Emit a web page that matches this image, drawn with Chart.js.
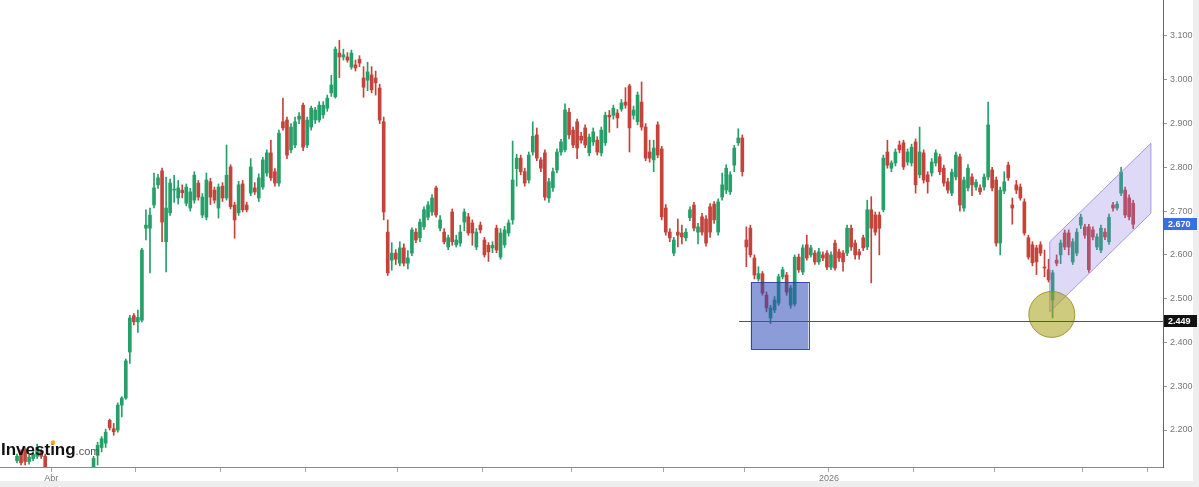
<!DOCTYPE html>
<html>
<head>
<meta charset="utf-8">
<script src="https://cdn.jsdelivr.net/npm/chart.js@4.4.1/dist/chart.umd.min.js"></script>
<style>
  html, body { margin: 0; padding: 0; background: #fff; overflow: hidden; }
  canvas { display: block; }
</style>
</head>
<body>
<canvas id="chart" width="1199" height="487"></canvas>
<script>
// daily candles (index 0 = late March)
const opens = [
  2.130, 2.150, 2.155, 2.128, 2.135, 2.140, 2.150, 2.140, 2.110, 2.060,
  2.010, 2.040, 1.980, 2.020, 2.050, 2.030, 2.070, 2.090, 2.080, 2.110,
  2.142, 2.160, 2.170, 2.222, 2.203, 2.200, 2.257, 2.273, 2.378, 2.461,
  2.447, 2.451, 2.661, 2.661, 2.714, 2.760, 2.792, 2.630, 2.696, 2.748,
  2.730, 2.748, 2.718, 2.707, 2.725, 2.764, 2.691, 2.686, 2.767, 2.748,
  2.707, 2.757, 2.730, 2.801, 2.714, 2.696, 2.762, 2.714, 2.741, 2.753,
  2.730, 2.755, 2.787, 2.833, 2.790, 2.764, 2.904, 2.908, 2.840, 2.851,
  2.910, 2.942, 2.851, 2.892, 2.908, 2.908, 2.920, 2.935, 2.970, 2.961,
  3.061, 3.052, 3.052, 3.029, 3.034, 3.047, 3.004, 2.999, 3.011, 3.004,
  2.981, 2.904, 2.652, 2.588, 2.604, 2.581, 2.616, 2.581, 2.604, 2.652,
  2.639, 2.664, 2.686, 2.698, 2.753, 2.661, 2.652, 2.618, 2.698, 2.623,
  2.627, 2.675, 2.687, 2.673, 2.618, 2.668, 2.634, 2.622, 2.616, 2.661,
  2.595, 2.623, 2.650, 2.680, 2.797, 2.821, 2.790, 2.771, 2.835, 2.874,
  2.817, 2.833, 2.730, 2.753, 2.794, 2.835, 2.840, 2.926, 2.885, 2.904,
  2.871, 2.890, 2.833, 2.858, 2.862, 2.833, 2.856, 2.919, 2.919, 2.924,
  2.933, 2.949, 2.986, 2.919, 2.904, 2.949, 2.892, 2.835, 2.817, 2.897,
  2.842, 2.707, 2.652, 2.604, 2.652, 2.650, 2.639, 2.685, 2.714, 2.652,
  2.687, 2.682, 2.710, 2.716, 2.652, 2.732, 2.748, 2.744, 2.805, 2.856,
  2.867, 2.634, 2.661, 2.593, 2.545, 2.557, 2.508, 2.456, 2.474, 2.490,
  2.550, 2.554, 2.485, 2.488, 2.595, 2.561, 2.623, 2.600, 2.604, 2.584,
  2.600, 2.604, 2.572, 2.627, 2.607, 2.604, 2.604, 2.661, 2.627, 2.607,
  2.639, 2.618, 2.703, 2.691, 2.691, 2.703, 2.835, 2.798, 2.810, 2.851,
  2.856, 2.812, 2.810, 2.858, 2.783, 2.833, 2.783, 2.787, 2.810, 2.824,
  2.798, 2.767, 2.741, 2.778, 2.824, 2.707, 2.753, 2.778, 2.755, 2.753,
  2.755, 2.778, 2.794, 2.771, 2.627, 2.746, 2.805, 2.714, 2.760, 2.755,
  2.721, 2.639, 2.623, 2.616, 2.623, 2.572, 2.566, 2.497, 2.588, 2.600,
  2.650, 2.650, 2.584, 2.604, 2.668, 2.664, 2.664, 2.657, 2.618, 2.611,
  2.652, 2.630, 2.714, 2.707, 2.741, 2.748, 2.730, 2.718
];
const highs = [
  2.145, 2.155, 2.160, 2.142, 2.150, 2.168, 2.155, 2.145, 2.115, 2.070,
  2.050, 2.045, 2.030, 2.060, 2.060, 2.080, 2.100, 2.100, 2.112, 2.140,
  2.172, 2.185, 2.202, 2.225, 2.215, 2.262, 2.276, 2.362, 2.462, 2.466,
  2.474, 2.615, 2.703, 2.707, 2.787, 2.784, 2.798, 2.778, 2.773, 2.782,
  2.770, 2.760, 2.762, 2.752, 2.790, 2.770, 2.740, 2.787, 2.775, 2.755,
  2.762, 2.765, 2.851, 2.806, 2.720, 2.768, 2.770, 2.720, 2.820, 2.765,
  2.785, 2.823, 2.840, 2.862, 2.797, 2.885, 2.958, 2.915, 2.900, 2.915,
  2.925, 2.947, 2.915, 2.940, 2.937, 2.950, 2.950, 2.965, 3.010, 3.075,
  3.090, 3.070, 3.062, 3.068, 3.045, 3.055, 3.030, 3.040, 3.030, 3.020,
  2.990, 2.915, 2.680, 2.628, 2.612, 2.630, 2.625, 2.610, 2.662, 2.660,
  2.682, 2.710, 2.722, 2.738, 2.757, 2.690, 2.660, 2.645, 2.705, 2.645,
  2.668, 2.705, 2.695, 2.680, 2.660, 2.675, 2.640, 2.628, 2.630, 2.668,
  2.660, 2.665, 2.680, 2.860, 2.830, 2.828, 2.798, 2.835, 2.904, 2.890,
  2.822, 2.840, 2.775, 2.798, 2.842, 2.864, 2.945, 2.935, 2.892, 2.910,
  2.880, 2.897, 2.876, 2.890, 2.870, 2.892, 2.926, 2.930, 2.942, 2.932,
  2.955, 2.982, 2.990, 2.940, 2.972, 2.995, 2.900, 2.862, 2.862, 2.904,
  2.848, 2.715, 2.660, 2.640, 2.682, 2.668, 2.660, 2.710, 2.720, 2.672,
  2.695, 2.690, 2.717, 2.722, 2.728, 2.787, 2.806, 2.790, 2.850, 2.888,
  2.874, 2.664, 2.668, 2.600, 2.573, 2.562, 2.515, 2.485, 2.505, 2.556,
  2.572, 2.560, 2.530, 2.600, 2.602, 2.623, 2.645, 2.622, 2.610, 2.615,
  2.607, 2.610, 2.607, 2.634, 2.613, 2.610, 2.668, 2.668, 2.634, 2.613,
  2.645, 2.725, 2.733, 2.698, 2.698, 2.828, 2.862, 2.815, 2.842, 2.860,
  2.862, 2.842, 2.853, 2.865, 2.892, 2.840, 2.790, 2.820, 2.840, 2.830,
  2.805, 2.775, 2.796, 2.835, 2.830, 2.778, 2.806, 2.785, 2.772, 2.760,
  2.785, 2.949, 2.800, 2.778, 2.755, 2.790, 2.812, 2.730, 2.770, 2.762,
  2.728, 2.645, 2.630, 2.622, 2.630, 2.611, 2.590, 2.565, 2.600, 2.634,
  2.657, 2.657, 2.637, 2.660, 2.693, 2.670, 2.670, 2.664, 2.648, 2.668,
  2.660, 2.693, 2.720, 2.722, 2.800, 2.755, 2.737, 2.725
];
const lows = [
  2.125, 2.120, 2.120, 2.122, 2.130, 2.135, 2.135, 2.100, 2.050, 2.000,
  1.990, 1.960, 1.970, 2.010, 2.020, 2.025, 2.060, 2.070, 2.075, 2.100,
  2.120, 2.150, 2.160, 2.200, 2.188, 2.195, 2.230, 2.270, 2.352, 2.440,
  2.423, 2.447, 2.634, 2.559, 2.707, 2.752, 2.630, 2.561, 2.690, 2.720,
  2.716, 2.730, 2.712, 2.700, 2.718, 2.725, 2.685, 2.680, 2.715, 2.718,
  2.684, 2.722, 2.725, 2.705, 2.638, 2.690, 2.698, 2.698, 2.735, 2.738,
  2.722, 2.750, 2.780, 2.770, 2.757, 2.757, 2.885, 2.820, 2.833, 2.845,
  2.900, 2.838, 2.845, 2.885, 2.900, 2.903, 2.912, 2.928, 2.962, 2.958,
  3.005, 3.045, 3.040, 3.024, 3.020, 3.030, 2.960, 2.975, 2.970, 2.965,
  2.900, 2.680, 2.553, 2.565, 2.578, 2.575, 2.575, 2.568, 2.598, 2.628,
  2.630, 2.658, 2.680, 2.690, 2.686, 2.655, 2.625, 2.612, 2.622, 2.618,
  2.620, 2.655, 2.645, 2.622, 2.612, 2.650, 2.595, 2.585, 2.605, 2.605,
  2.590, 2.617, 2.643, 2.670, 2.757, 2.783, 2.757, 2.764, 2.828, 2.815,
  2.790, 2.725, 2.720, 2.745, 2.787, 2.828, 2.835, 2.865, 2.845, 2.820,
  2.855, 2.845, 2.826, 2.850, 2.828, 2.826, 2.850, 2.880, 2.910, 2.890,
  2.928, 2.935, 2.835, 2.910, 2.897, 2.885, 2.815, 2.812, 2.790, 2.822,
  2.680, 2.645, 2.630, 2.598, 2.618, 2.625, 2.632, 2.678, 2.655, 2.625,
  2.645, 2.620, 2.640, 2.672, 2.645, 2.725, 2.740, 2.738, 2.790, 2.850,
  2.780, 2.573, 2.595, 2.545, 2.540, 2.508, 2.470, 2.443, 2.468, 2.485,
  2.545, 2.508, 2.478, 2.483, 2.560, 2.555, 2.588, 2.595, 2.578, 2.578,
  2.587, 2.566, 2.566, 2.565, 2.585, 2.563, 2.598, 2.610, 2.590, 2.590,
  2.610, 2.612, 2.536, 2.645, 2.600, 2.698, 2.798, 2.790, 2.803, 2.833,
  2.795, 2.805, 2.803, 2.741, 2.776, 2.764, 2.741, 2.780, 2.803, 2.783,
  2.757, 2.741, 2.735, 2.771, 2.700, 2.700, 2.746, 2.735, 2.748, 2.738,
  2.748, 2.771, 2.746, 2.620, 2.600, 2.740, 2.770, 2.670, 2.740, 2.725,
  2.645, 2.590, 2.575, 2.555, 2.598, 2.550, 2.538, 2.456, 2.575, 2.580,
  2.612, 2.600, 2.578, 2.598, 2.660, 2.638, 2.560, 2.634, 2.612, 2.605,
  2.635, 2.624, 2.700, 2.702, 2.735, 2.685, 2.680, 2.660
];
const closes = [
  2.140, 2.125, 2.128, 2.138, 2.145, 2.160, 2.140, 2.110, 2.060, 2.010,
  2.040, 1.980, 2.020, 2.050, 2.030, 2.070, 2.090, 2.080, 2.105, 2.135,
  2.165, 2.180, 2.195, 2.205, 2.196, 2.257, 2.273, 2.358, 2.456, 2.447,
  2.457, 2.611, 2.668, 2.691, 2.753, 2.776, 2.675, 2.707, 2.764, 2.750,
  2.753, 2.742, 2.755, 2.744, 2.782, 2.732, 2.732, 2.771, 2.732, 2.725,
  2.755, 2.730, 2.782, 2.710, 2.680, 2.760, 2.703, 2.703, 2.801, 2.744,
  2.776, 2.817, 2.833, 2.776, 2.764, 2.878, 2.890, 2.828, 2.892, 2.904,
  2.917, 2.846, 2.908, 2.935, 2.931, 2.942, 2.942, 2.958, 2.988, 3.070,
  3.052, 3.057, 3.045, 3.061, 3.027, 3.038, 2.983, 3.018, 2.977, 2.993,
  2.908, 2.698, 2.559, 2.604, 2.590, 2.616, 2.581, 2.593, 2.657, 2.634,
  2.675, 2.703, 2.714, 2.730, 2.691, 2.680, 2.630, 2.639, 2.630, 2.634,
  2.652, 2.698, 2.650, 2.650, 2.652, 2.657, 2.600, 2.607, 2.622, 2.611,
  2.650, 2.657, 2.673, 2.771, 2.821, 2.790, 2.764, 2.828, 2.871, 2.821,
  2.798, 2.732, 2.767, 2.790, 2.835, 2.858, 2.931, 2.874, 2.851, 2.844,
  2.862, 2.851, 2.869, 2.881, 2.835, 2.885, 2.919, 2.915, 2.935, 2.913,
  2.947, 2.942, 2.890, 2.931, 2.965, 2.892, 2.821, 2.821, 2.844, 2.828,
  2.687, 2.652, 2.639, 2.634, 2.645, 2.641, 2.652, 2.703, 2.661, 2.664,
  2.652, 2.627, 2.652, 2.680, 2.721, 2.760, 2.798, 2.783, 2.844, 2.867,
  2.790, 2.618, 2.600, 2.554, 2.557, 2.513, 2.479, 2.479, 2.497, 2.550,
  2.566, 2.515, 2.524, 2.595, 2.566, 2.616, 2.593, 2.616, 2.584, 2.607,
  2.593, 2.572, 2.600, 2.570, 2.593, 2.584, 2.661, 2.618, 2.600, 2.600,
  2.616, 2.703, 2.661, 2.652, 2.661, 2.821, 2.805, 2.810, 2.835, 2.840,
  2.801, 2.835, 2.846, 2.760, 2.835, 2.771, 2.767, 2.812, 2.833, 2.790,
  2.764, 2.748, 2.789, 2.828, 2.714, 2.771, 2.798, 2.760, 2.766, 2.744,
  2.778, 2.897, 2.753, 2.627, 2.748, 2.767, 2.776, 2.707, 2.748, 2.730,
  2.650, 2.595, 2.582, 2.584, 2.604, 2.570, 2.543, 2.559, 2.581, 2.627,
  2.618, 2.618, 2.630, 2.652, 2.686, 2.645, 2.566, 2.641, 2.641, 2.661,
  2.641, 2.686, 2.707, 2.716, 2.789, 2.691, 2.687, 2.670
];

// first candle of each month, and the labels shown under those ticks
const monthStarts = [9, 30, 51, 72, 95, 116, 138, 161, 181, 202, 223, 243, 265, 281];
const monthLabels = ['Abr', '', '', '', '', '', '', '', '', '2026', '', '', '', ''];
const priceTicks = [2.2, 2.3, 2.4, 2.5, 2.6, 2.7, 2.8, 2.9, 3.0, 3.1];

const lastPrice = 2.670;
const supportLevel = 2.449;
const supportFrom = 179.2;

// drawings on the chart, in (candle index, price)
const zoneBox = { from: 182.1, to: 196.4, top: 2.537, bottom: 2.385 };
const bounceCircle = { at: 256.8, price: 2.464 };
const channel = [[256.3, 2.630], [281.4, 2.855], [281.4, 2.695], [256.3, 2.470]];

const UP = '#24a068';
const DOWN = '#c4433b';
const colorOf = i => (closes[i] >= opens[i] ? UP : DOWN);

const wickData = highs.map((h, i) => ({ x: i, y: [lows[i], h] }));
const bodyData = opens.map((o, i) => ({ x: i, y: [o, closes[i]] }));

const fmt = v => v.toFixed(3);

const extras = {
  id: 'extras',
  beforeDraw(chart) {
    const c = chart.ctx;
    c.save();
    c.fillStyle = '#ffffff';
    c.fillRect(0, 0, chart.width, chart.height);
    c.fillStyle = '#eeeeee';
    c.fillRect(0, 481, chart.width, chart.height - 481);
    c.fillRect(1193, 0, chart.width - 1193, chart.height);
    c.restore();
  },
  afterDatasetsDraw(chart) {
    const c = chart.ctx, xs = chart.scales.x, ys = chart.scales.y, a = chart.chartArea;
    c.save();
    c.beginPath();
    c.rect(a.left, a.top, a.right - a.left, a.bottom - a.top);
    c.clip();

    // blue zone
    const bx0 = xs.getPixelForValue(zoneBox.from), bx1 = xs.getPixelForValue(zoneBox.to);
    const by0 = ys.getPixelForValue(zoneBox.top), by1 = ys.getPixelForValue(zoneBox.bottom);
    c.fillStyle = 'rgba(45, 75, 185, 0.55)';
    c.fillRect(bx0, by0, bx1 - bx0, by1 - by0);
    c.strokeStyle = 'rgba(40, 60, 160, 0.9)';
    c.lineWidth = 1;
    c.strokeRect(Math.round(bx0) + 0.5, Math.round(by0) + 0.5, Math.round(bx1 - bx0), Math.round(by1 - by0));

    // rising channel
    c.beginPath();
    channel.forEach(([i, p], k) => {
      const px = xs.getPixelForValue(i), py = ys.getPixelForValue(p);
      if (k === 0) c.moveTo(px, py); else c.lineTo(px, py);
    });
    c.closePath();
    c.fillStyle = 'rgba(140, 120, 230, 0.28)';
    c.fill();
    c.strokeStyle = 'rgba(150, 130, 225, 0.8)';
    c.stroke();

    // circle at the low
    c.beginPath();
    c.arc(xs.getPixelForValue(bounceCircle.at), ys.getPixelForValue(bounceCircle.price), 23, 0, Math.PI * 2);
    c.fillStyle = 'rgba(165, 160, 20, 0.55)';
    c.fill();
    c.strokeStyle = 'rgba(150, 145, 40, 0.9)';
    c.stroke();

    // support line
    const sy = Math.round(ys.getPixelForValue(supportLevel)) + 0.5;
    c.beginPath();
    c.moveTo(xs.getPixelForValue(supportFrom), sy);
    c.lineTo(a.right, sy);
    c.strokeStyle = '#555';
    c.stroke();
    c.restore();
  },
  afterDraw(chart) {
    const c = chart.ctx, ys = chart.scales.y, a = chart.chartArea;
    c.save();
    // price tags on the axis
    const tag = (price, bg) => {
      const y = Math.round(ys.getPixelForValue(price));
      c.fillStyle = bg;
      c.fillRect(a.right + 1, y - 6, 33, 12);
      c.fillStyle = '#fff';
      c.font = 'bold 9px "Liberation Sans", Arial, sans-serif';
      c.textBaseline = 'middle';
      c.textAlign = 'left';
      c.fillText(fmt(price), a.right + 5, y + 0.5);
    };
    tag(lastPrice, '#3a6fe2');
    tag(supportLevel, '#111');

    // logo
    c.textBaseline = 'alphabetic';
    c.textAlign = 'left';
    c.font = 'bold 17px "Liberation Sans", Arial, sans-serif';
    c.fillStyle = '#111';
    c.fillText('Investing', 1, 455);
    const w = c.measureText('Investing').width;
    c.font = '11px "Liberation Sans", Arial, sans-serif';
    c.fillStyle = '#555';
    c.fillText('.com', 1 + w, 455);
    c.fillStyle = '#f4a622';
    c.beginPath();
    c.arc(53, 442.5, 2.2, 0, Math.PI * 2);
    c.fill();
    c.restore();
  }
};

new Chart(document.getElementById('chart'), {
  type: 'bar',
  data: {
    datasets: [
      {
        data: wickData,
        backgroundColor: ctx => colorOf(ctx.dataIndex),
        barThickness: 1,
        grouped: false,
        order: 2
      },
      {
        data: bodyData,
        backgroundColor: ctx => colorOf(ctx.dataIndex),
        barThickness: 3,
        minBarLength: 1,
        grouped: false,
        order: 1
      }
    ]
  },
  options: {
    responsive: false,
    animation: false,
    devicePixelRatio: 1,
    layout: { padding: 0 },
    plugins: { legend: { display: false }, tooltip: { enabled: false } },
    scales: {
      x: {
        type: 'linear',
        min: -4.22,
        max: 284.4,
        offset: false,
        afterBuildTicks: s => { s.ticks = monthStarts.map(v => ({ value: v - 0.5 })); },
        afterFit: s => { s.height = 20; s.paddingLeft = 0; s.paddingRight = 0; },
        ticks: {
          autoSkip: false,
          maxRotation: 0,
          padding: 1,
          color: '#777',
          font: { family: '"Liberation Sans", Arial, sans-serif', size: 9 },
          callback: (v, i) => monthLabels[i]
        },
        grid: { offset: false, drawOnChartArea: false, drawTicks: true, tickLength: 5, color: '#aaa' },
        border: { display: true, color: '#888' }
      },
      y: {
        position: 'right',
        min: 2.1155,
        max: 3.1822,
        afterBuildTicks: s => { s.ticks = priceTicks.map(v => ({ value: v })); },
        afterFit: s => { s.width = 36; s.paddingTop = 0; s.paddingBottom = 0; },
        ticks: {
          padding: 3,
          color: '#777',
          font: { family: '"Liberation Sans", Arial, sans-serif', size: 9 },
          callback: v => fmt(v)
        },
        grid: { offset: false, drawOnChartArea: false, drawTicks: true, tickLength: 4, color: '#999' },
        border: { display: true, color: '#666' }
      }
    }
  },
  plugins: [extras]
});
</script>
</body>
</html>
